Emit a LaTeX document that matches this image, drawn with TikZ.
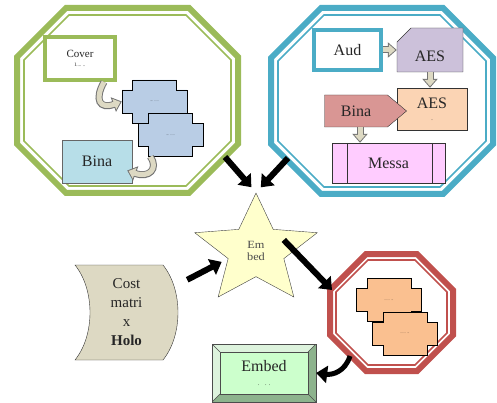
\documentclass[tikz,border=0pt]{standalone}
\usepackage{fontspec}
\setmainfont{Liberation Serif}
\usetikzlibrary{shapes.geometric,shapes.symbols,arrows.meta,calc}

\definecolor{grnline}{HTML}{9BBB59}
\definecolor{bluline}{HTML}{4BACC6}
\definecolor{redline}{HTML}{C0504D}
\definecolor{stepblue}{HTML}{B9CDE5}
\definecolor{stepor}{HTML}{FAC090}
\definecolor{binacyan}{HTML}{B7DEE8}
\definecolor{beige}{HTML}{DDD9C3}
\definecolor{aespurple}{HTML}{CCC1DA}
\definecolor{aespeach}{HTML}{FBD4B4}
\definecolor{binarose}{HTML}{D99694}
\definecolor{messapink}{HTML}{FFCCFF}
\definecolor{staryel}{HTML}{FFFFCC}
\definecolor{embface}{HTML}{CCFFCC}
\definecolor{embedge}{HTML}{DDF3DD}
\definecolor{embdark}{HTML}{8DB38D}

% octagon outline: style, x1, y1, x2, y2, corner
\newcommand{\octo}[6]{\draw[#1] (#2+#6,#3) -- (#4-#6,#3) -- (#4,#3+#6) -- (#4,#5-#6)
  -- (#4-#6,#5) -- (#2+#6,#5) -- (#2,#5-#6) -- (#2,#3+#6) -- cycle;}

% stepped box: name, x, y, fill
\newcommand{\stepbox}[4]{%
  \draw[fill=#4, draw=black, line width=0.8pt] (#2-22,#3-21.5) -- (#2+22,#3-21.5) -- (#2+22,#3-11.5)
    -- (#2+32.5,#3-11.5) -- (#2+32.5,#3+11.5) -- (#2+22,#3+11.5) -- (#2+22,#3+21.5)
    -- (#2-22,#3+21.5) -- (#2-22,#3+11.5) -- (#2-32.5,#3+11.5) -- (#2-32.5,#3-11.5)
    -- (#2-22,#3-11.5) -- cycle;
  \node[minimum width=65, minimum height=43, font=\fontsize{3}{3}\selectfont] (#1) at (#2,#3) {.... .. ...};}

\begin{document}
\begin{tikzpicture}[x=1pt, y=-1pt,
    lbl/.style={font=\fontsize{16}{18}\selectfont, text=black!85},
    blk/.style={line width=6pt, -{Triangle[length=11pt,width=17pt]}},
    barrow/.style={draw=black!55, line width=7pt, -{Triangle[length=9pt,width=15pt]},
      postaction={draw=beige, line width=5pt, shorten >=1.5pt, -{Triangle[length=6.5pt,width=11pt]}}},
    starnode/.style={star, star points=5, star point ratio=2.2, minimum size=115, inner sep=0pt,
      draw=black!75, fill=staryel, align=center, font=\fontsize{11}{12}\selectfont, text=black!70, transform shape},
    predef/.style={draw=black!80, fill=messapink, minimum width=113, minimum height=40, lbl,
      path picture={\draw[black!80] ([xshift=15]path picture bounding box.north west) -- ([xshift=15]path picture bounding box.south west)
        ([xshift=-13]path picture bounding box.north east) -- ([xshift=-13]path picture bounding box.south east);}},
    bevel/.style={draw=black!70, fill=embedge, minimum width=104, minimum height=58, align=center, lbl,
      path picture={
        \path (path picture bounding box.north west) coordinate (p1)
              (path picture bounding box.south east) coordinate (p2);
        \fill[embdark] (p2) -- (p2 -| p1) -- ++(8,-8) -- ($(p2)+(-8,-8)$) -- ($(p2 |- p1)+(-8,8)$) -- (p2 |- p1) -- cycle;
        \draw[black!70, fill=embface] ($(p1)+(8,8)$) rectangle ($(p2)+(-8,-8)$);
        \draw[black!70] (p1) -- ++(8,8) (p2) -- ++(-8,-8) (p2 -| p1) -- ++(8,-8) (p2 |- p1) -- ++(-8,8);}}]
  \useasboundingbox (0,0) rectangle (497,403);

  % cover side
  \octo{grnline, line width=6pt}{17}{8}{238}{193}{49}
  \octo{grnline, line width=1.6pt}{24}{15}{231}{186}{45}
  \node[draw=grnline, line width=4pt, fill=white, minimum width=70, minimum height=43, align=center,
    font=\fontsize{11}{12}\selectfont, text=black!85] (cov) at (80,58.5) {Cover\\[-3pt]{\fontsize{5}{5}\selectfont I.... ..}};
  \stepbox{st1}{154.5}{101.5}{stepblue}
  \stepbox{st2}{170.5}{135}{stepblue}
  \node[draw=black!60, fill=binacyan, minimum width=70, minimum height=43, lbl] (bina) at (97,161.5) {Bina};
  \draw[barrow] ([xshift=-13]cov.south east) .. controls +(-10,18) and +(-22,8) .. (st1.west);
  \draw[barrow] ([xshift=-20]st2.south) .. controls +(8,12) and +(22,8) .. ($(bina.east)+(-5,9)$);
  \coordinate (gcorner) at (225,157);

  % audio side
  \octo{bluline, line width=6pt}{271}{8}{493}{194}{50}
  \octo{bluline, line width=1.6pt}{278}{15}{486}{187}{46}
  \node[draw=bluline, line width=4pt, fill=white, minimum width=67, minimum height=40, lbl] (aud) at (347.5,50) {Aud};
  \draw[fill=aespurple, draw=black!80] (411,28) -- (463,28) -- (463,72) -- (397,72) -- (397,42) -- cycle;
  \node[minimum width=66, minimum height=44, text height=26pt, text depth=3pt, lbl] (aes1) at (430,50) {AES};
  \node[draw=black!80, fill=aespeach, minimum width=70, minimum height=42, align=center, lbl] (aes2) at (432,109)
    {AES\\[-6pt]{\fontsize{6}{6}\selectfont .}};
  \node[signal, signal to=east, signal pointer angle=80, draw=black!80, fill=binarose,
    minimum width=82, minimum height=32, lbl] (bina2) at (356,111) {Bina};
  \node[predef] (messa) at (388.5,163) {Messa};
  \draw[barrow] (aud.east) -- (aes1.west);
  \draw[barrow] (aes1.south) -- (aes1.south |- aes2.north);
  \draw[barrow] ([xshift=4]bina2.south) -- ([xshift=4]bina2.south |- messa.north);
  \coordinate (bcorner) at (288,158);

  % embedding
  \begin{scope}[shift={(256,250.5)}, xscale=1.12]
    \node[starnode] (emb) at (0,0) {Em\\bed};
  \end{scope}
  \draw[blk, shorten >=7pt] (gcorner) -- (emb.outer point 1);
  \draw[blk, shorten >=7pt] (bcorner) -- (emb.outer point 1);

  \draw[fill=beige, draw=black!80] (75,265) -- (163,265) .. controls (183,290) and (183,335) .. (163,360)
    -- (75,360) .. controls (95,335) and (95,290) .. (75,265) -- cycle;
  \node[minimum width=103, minimum height=95, align=center, font=\fontsize{15}{19}\selectfont, text=black!85]
    (cost) at (126.5,312.5) {Cost\\matri\\x\\\textbf{Holo}};
  \draw[blk, shorten >=7pt] ($(cost.north east)+(9,15)$) -- (emb.inner point 2);

  % result
  \octo{redline, line width=6pt}{330}{254}{453}{371}{36}
  \octo{redline, line width=1.6pt}{336}{260}{447}{365}{32}
  \stepbox{or1}{389}{300}{stepor}
  \stepbox{or2}{405}{333.5}{stepor}
  \coordinate (rin) at (332,290);
  \coordinate (rout) at (350,356);
  \draw[blk, shorten <=15pt] (emb.inner point 5) -- (rin);

  \node[bevel] (emd) at (264,373) {Embed\\[-4pt]{\fontsize{6}{6}\selectfont .\quad . .}};
  \draw[blk, line width=5pt] (rout) .. controls +(-5,16) and +(16,2) .. (emd.east);
\end{tikzpicture}
\end{document}
